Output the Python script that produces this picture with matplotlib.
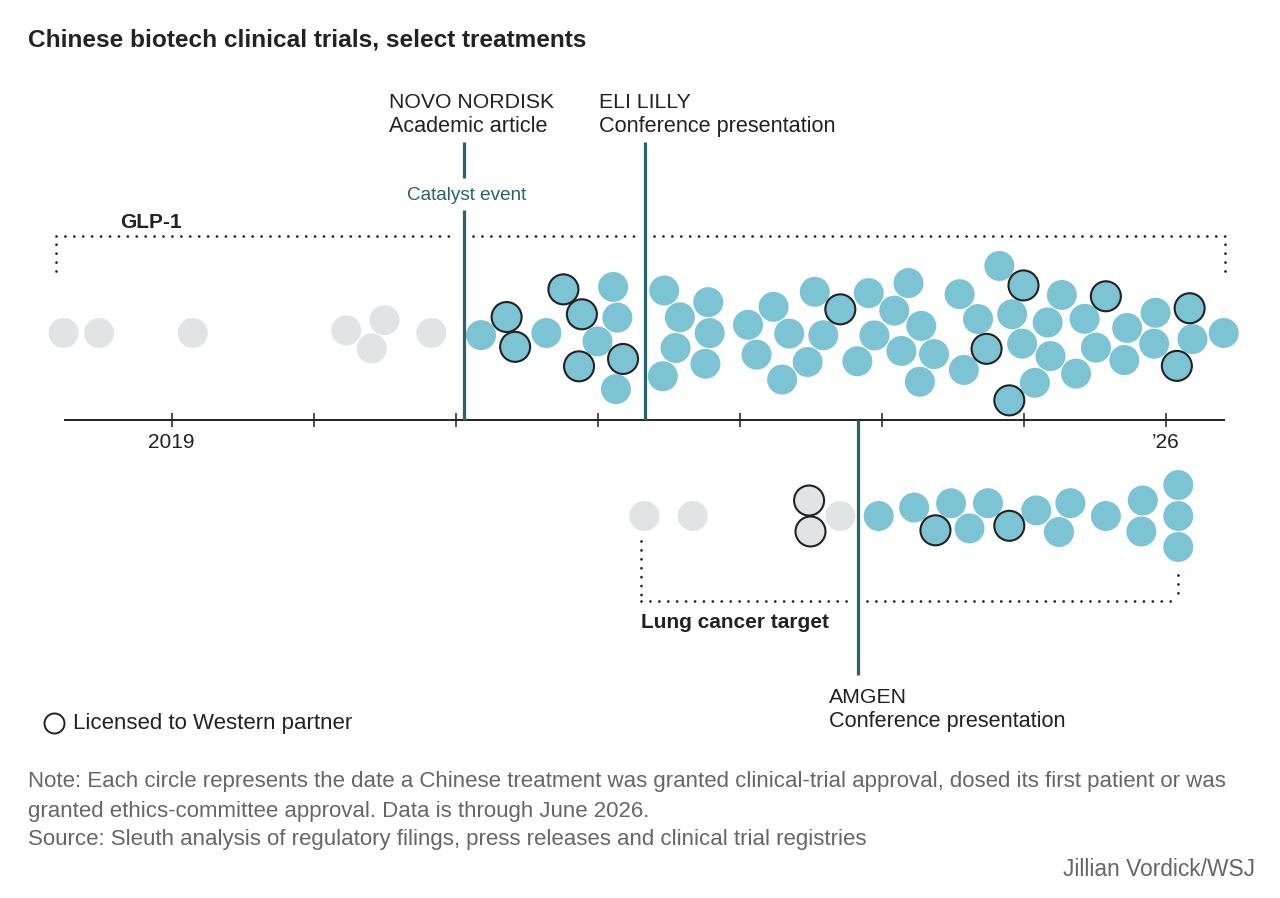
import numpy as np
import matplotlib
matplotlib.use("Agg")
import matplotlib.pyplot as plt

W, H, DPI = 1280, 898, 100

# decimal year of each treatment milestone, flag = licensed to a Western partner
GLP1_DATES = [
    2018.24, 2018.49, 2019.15, 2020.23, 2020.41, 2020.50, 2020.83,
    2021.18, 2021.36, 2021.42, 2021.64, 2021.76, 2021.87, 2021.89,
    2022.00, 2022.11, 2022.13, 2022.14, 2022.18, 2022.46, 2022.47,
    2022.55, 2022.58, 2022.76, 2022.78, 2022.79, 2023.06, 2023.12,
    2023.24, 2023.30, 2023.35, 2023.48, 2023.53, 2023.59, 2023.71,
    2023.83, 2023.91, 2023.95, 2024.09, 2024.14, 2024.19, 2024.27,
    2024.28, 2024.37, 2024.55, 2024.58, 2024.68, 2024.74, 2024.83,
    2024.90, 2024.92, 2024.99, 2025.00, 2025.08, 2025.17, 2025.19,
    2025.27, 2025.37, 2025.43, 2025.51, 2025.58, 2025.71, 2025.73,
    2025.92, 2025.93, 2026.08, 2026.17, 2026.19, 2026.41,
]
GLP1_LICENSED = [
    0, 0, 0, 0, 0, 0, 0,
    0, 1, 1, 0, 1, 1, 1,
    0, 0, 0, 0, 1, 0, 0,
    0, 0, 0, 0, 0, 0, 0,
    0, 0, 0, 0, 0, 0, 1,
    0, 0, 0, 0, 0, 0, 0,
    0, 0, 0, 0, 0, 1, 0,
    1, 0, 0, 1, 0, 0, 0,
    0, 0, 0, 0, 1, 0, 0,
    0, 0, 1, 1, 0, 0,
]
LUNG_DATES = [
    2022.33, 2022.67, 2023.49, 2023.50, 2023.71, 2023.98, 2024.23,
    2024.38, 2024.49, 2024.62, 2024.75, 2024.90, 2025.09, 2025.25,
    2025.33, 2025.58, 2025.83, 2025.84, 2026.09, 2026.09, 2026.09,
]
LUNG_LICENSED = [
    0, 0, 1, 1, 0, 0, 0,
    1, 0, 0, 0, 1, 0, 0,
    0, 0, 0, 0, 0, 0, 0,
]

NOVO_DATE = 2021.06
LILLY_DATE = 2022.335
AMGEN_DATE = 2023.835

YEARS = list(range(2019, 2027))
YEAR_LABELS = ["2019", "", "", "", "", "", "", "\u201926"]

# layout (pixels)
X2019_PX = 171.5
PX_PER_YEAR = 142.0
AXIS_Y = 420
GLP1_Y = 333
LUNG_Y = 516
DOT_PX = 30

BLUE = "#7cc4d4"
GRAY = "#e2e3e5"
TEAL = "#28626c"
INK = "#222222"
NOTE_GRAY = "#666666"

NARROW = ["Liberation Sans Narrow", "Liberation Sans", "DejaVu Sans"]
SANS = ["Liberation Sans", "DejaVu Sans"]


def px_to_year(px):
    return 2019 + (px - X2019_PX) / PX_PER_YEAR


def swarm_offsets(dates, gap=31.0, pull=0.04, steps=400):
    # simple relaxation: x stays at the date, circles pushed apart vertically
    xpx = (np.asarray(dates, float) - 2019) * PX_PER_YEAR
    n = len(xpx)
    y = 0.3 * np.sin(np.arange(n) * 2.1)
    dx = xpx[None, :] - xpx[:, None]
    need = np.sqrt(np.clip(gap ** 2 - dx ** 2, 0, None))
    pairs = [(i, j) for i in range(n) for j in range(i + 1, n) if need[i, j] > 0]
    for step in range(steps):
        for i, j in pairs:
            dy = y[j] - y[i]
            if abs(dy) < need[i, j]:
                push = (need[i, j] - abs(dy)) / 2
                s = 1.0 if dy >= 0 else -1.0
                y[i] -= s * push
                y[j] += s * push
        if step < steps - 80:
            y *= 1 - pull
    return y


def draw_swarm(ax, dates, licensed, center_y, event_date):
    dates = np.asarray(dates, float)
    lic = np.asarray(licensed, bool)
    ys = center_y + swarm_offsets(dates)
    colors = np.where(dates < event_date, GRAY, BLUE)
    s = (DOT_PX * 72 / DPI) ** 2
    ax.scatter(dates[~lic], ys[~lic], s=s, c=colors[~lic], edgecolors="none", zorder=3)
    ax.scatter(dates[lic], ys[lic], s=s, c=colors[lic], edgecolors=INK,
               linewidths=1.5, zorder=4)


def dotted(ax, xs_px, ys_px):
    ax.plot([px_to_year(x) for x in xs_px], ys_px, color=INK, lw=2.0,
            linestyle=(0, (0.01, 3.2)), dash_capstyle="round", zorder=2)


def bracket(ax, x0, x1, y, y0_left, y0_right, gaps):
    dotted(ax, [x0, x0], [y0_left, y])
    dotted(ax, [x1, x1], [y0_right, y])
    edges = [x0]
    for g in gaps:
        edges += [g - 9, g + 9]
    edges.append(x1)
    for a, b in zip(edges[::2], edges[1::2]):
        dotted(ax, [a, b], [y, y])


def event_line(ax, date, segments):
    for y0, y1 in segments:
        ax.plot([date, date], [y0, y1], color=TEAL, lw=2.3, solid_capstyle="butt", zorder=5)


def event_label(ax, date, dx_px, y_base, head, sub):
    x = date + dx_px / PX_PER_YEAR
    ax.text(x, y_base, head, fontsize=15.3, family=SANS, color=INK, va="baseline")
    ax.text(x, y_base + 24.5, sub, fontsize=15.6, family=SANS, color=INK, va="baseline")


def main():
    fig = plt.figure(figsize=(W / DPI, H / DPI), dpi=DPI)
    ax = fig.add_axes([0, 0, 1, 1])
    ax.set_xlim(px_to_year(0), px_to_year(W))
    ax.set_ylim(H, 0)
    for side in ["top", "left", "right"]:
        ax.spines[side].set_visible(False)
    ax.spines["bottom"].set_position(("data", AXIS_Y))
    ax.spines["bottom"].set_bounds(px_to_year(65), px_to_year(1224))
    ax.spines["bottom"].set_linewidth(1.4)
    ax.spines["bottom"].set_color(INK)
    ax.set_yticks([])
    ax.set_xticks(YEARS, YEAR_LABELS)
    ax.tick_params(axis="x", direction="inout", length=10, width=1.1, color=INK,
                   labelsize=15, labelcolor=INK, pad=4.5)
    for lbl in ax.get_xticklabels():
        lbl.set_fontfamily(NARROW)

    draw_swarm(ax, GLP1_DATES, GLP1_LICENSED, GLP1_Y, NOVO_DATE)
    draw_swarm(ax, LUNG_DATES, LUNG_LICENSED, LUNG_Y, AMGEN_DATE)

    novo_px = X2019_PX + (NOVO_DATE - 2019) * PX_PER_YEAR
    lilly_px = X2019_PX + (LILLY_DATE - 2019) * PX_PER_YEAR
    amgen_px = X2019_PX + (AMGEN_DATE - 2019) * PX_PER_YEAR

    bracket(ax, 55.5, 1225, 236, 271, 271, [novo_px, lilly_px])
    bracket(ax, 641, 1178, 601, 541, 575, [amgen_px])

    event_line(ax, NOVO_DATE, [(142, 178), (210, AXIS_Y)])
    event_line(ax, LILLY_DATE, [(142, AXIS_Y)])
    event_line(ax, AMGEN_DATE, [(AXIS_Y, 675)])

    event_label(ax, NOVO_DATE, -75.5, 107.5, "NOVO NORDISK", "Academic article")
    event_label(ax, LILLY_DATE, -46, 107.5, "ELI LILLY", "Conference presentation")
    event_label(ax, AMGEN_DATE, -29, 703, "AMGEN", "Conference presentation")
    ax.text(NOVO_DATE + 2.5 / PX_PER_YEAR, 200, "Catalyst event", fontsize=13.6,
            family=NARROW, color=TEAL, ha="center", va="baseline")

    ax.text(px_to_year(120), 227.5, "GLP-1", fontsize=15, fontweight="bold",
            family=SANS, color=INK, va="baseline")
    ax.text(px_to_year(641), 628, "Lung cancer target", fontsize=15, fontweight="bold",
            family=SANS, color=INK, va="baseline")

    # legend
    ax.scatter([px_to_year(54)], [722.5], s=(20 * 72 / DPI) ** 2, facecolors="white",
               edgecolors=INK, linewidths=1.4, zorder=4)
    ax.text(px_to_year(73), 729.5, "Licensed to Western partner", fontsize=16,
            family=SANS, color=INK, va="baseline")

    fig.text(28 / W, 1 - 47 / H, "Chinese biotech clinical trials, select treatments",
             fontsize=17.6, fontweight="bold", family=NARROW, color=INK, va="baseline")
    notes = [
        ("Note: Each circle represents the date a Chinese treatment was granted clinical-trial "
         "approval, dosed its first patient or was", 787),
        ("granted ethics-committee approval. Data is through June 2026.", 816.5),
        ("Source: Sleuth analysis of regulatory filings, press releases and clinical trial "
         "registries", 845),
    ]
    for txt, yb in notes:
        fig.text(28 / W, 1 - yb / H, txt, fontsize=16, family=SANS, color=NOTE_GRAY,
                 va="baseline")
    fig.text(1255 / W, 1 - 876.5 / H, "Jillian Vordick/WSJ", fontsize=16.4, family=SANS,
             color=NOTE_GRAY, ha="right", va="baseline")

    fig.savefig("out.png", dpi=DPI, facecolor="white")
    plt.close(fig)


if __name__ == "__main__":
    main()
